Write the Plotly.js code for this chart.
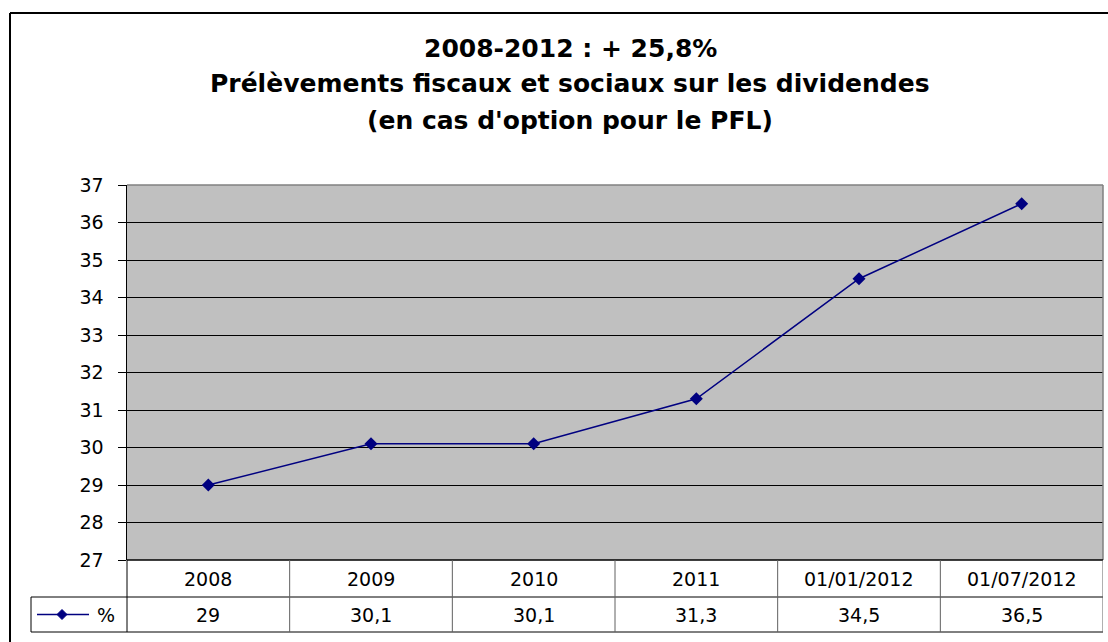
<!DOCTYPE html>
<html>
<head>
<meta charset="utf-8">
<script src="https://cdn.plot.ly/plotly-3.0.1.min.js"></script>
<style>html,body{margin:0;padding:0;background:#fff;}#chart{width:1108px;height:642px;}</style>
</head>
<body>
<div id="chart"></div>
<script>
// ---- data ----
const categories = ["2008", "2009", "2010", "2011", "01/01/2012", "01/07/2012"];
const values = [29, 30.1, 30.1, 31.3, 34.5, 36.5];
const valueLabels = ["29", "30,1", "30,1", "31,3", "34,5", "36,5"];
const seriesName = "%";
const yTicks = [27, 28, 29, 30, 31, 32, 33, 34, 35, 36, 37];
const titleLines = ["2008-2012 : + 25,8%", "Prélèvements fiscaux et sociaux sur les dividendes", "(en cas d'option pour le PFL)"];

// ---- layout geometry ----
const W = 1108, H = 642;
const L = 127, R = 1103, T = 185, B = 560;
const pw = R - L, ph = B - T;
const px = x => (x - L) / pw;
const py = y => (B - y) / ph;

const navy = "#000080";
const font = "DejaVu Sans, Arial, sans-serif";

const shapes = [];
const annotations = [];

// outer frame
shapes.push({type: "line", xref: "paper", yref: "paper", x0: px(10), x1: px(1112), y0: py(13), y1: py(13), line: {color: "#000", width: 2}});
shapes.push({type: "line", xref: "paper", yref: "paper", x0: px(10), x1: px(10), y0: py(13), y1: py(650), line: {color: "#000", width: 2}});
// plot area top/right border (gray)
shapes.push({type: "line", xref: "paper", yref: "paper", x0: 0, x1: 1, y0: 1, y1: 1, line: {color: "#808080", width: 1.5}});
shapes.push({type: "line", xref: "paper", yref: "paper", x0: 1, x1: 1, y0: 0, y1: 1, line: {color: "#808080", width: 1.5}});

// data table
const r1 = 597, r2 = 632;
shapes.push({type: "line", xref: "paper", yref: "paper", x0: 0, x1: 1, y0: 0, y1: 0, line: {color: "#000", width: 1.5}});
shapes.push({type: "line", xref: "paper", yref: "paper", x0: px(31), x1: 1, y0: py(r1), y1: py(r1), line: {color: "#000", width: 1}});
shapes.push({type: "line", xref: "paper", yref: "paper", x0: px(31), x1: 1, y0: py(r2), y1: py(r2), line: {color: "#000", width: 1}});
shapes.push({type: "line", xref: "paper", yref: "paper", x0: px(31), x1: px(31), y0: py(r1), y1: py(r2), line: {color: "#000", width: 1}});
shapes.push({type: "line", xref: "paper", yref: "paper", x0: 0, x1: 0, y0: 0, y1: py(r2), line: {color: "#000", width: 1}});
for (let i = 0; i < categories.length; i++) {
  shapes.push({type: "line", xref: "x", yref: "paper", x0: i + 0.5, x1: i + 0.5, y0: 0, y1: py(r2), line: {color: "#606060", width: 1}});
  annotations.push({xref: "x", yref: "paper", x: i, y: py((B + r1) / 2), text: categories[i], showarrow: false, xanchor: "center", yanchor: "middle", font: {family: font, size: 19, color: "#000"}});
  annotations.push({xref: "x", yref: "paper", x: i, y: py((r1 + r2) / 2), text: valueLabels[i], showarrow: false, xanchor: "center", yanchor: "middle", font: {family: font, size: 19, color: "#000"}});
}
// legend key in table
const ly = (r1 + r2) / 2;
shapes.push({type: "line", xref: "paper", yref: "paper", x0: px(37), x1: px(89), y0: py(ly), y1: py(ly), line: {color: navy, width: 1.5}});
const dc = 62, dr = 5;
shapes.push({type: "path", xref: "paper", yref: "paper",
  path: `M${px(dc - dr)},${py(ly)} L${px(dc)},${py(ly - dr)} L${px(dc + dr)},${py(ly)} L${px(dc)},${py(ly + dr)} Z`,
  fillcolor: navy, line: {color: navy, width: 1}});
annotations.push({xref: "paper", yref: "paper", x: px(106), y: py(ly), text: seriesName, showarrow: false, xanchor: "center", yanchor: "middle", font: {family: font, size: 19, color: "#000"}});

// title lines
const titleY = [48, 84, 120];
titleLines.forEach((t, i) => {
  annotations.push({xref: "paper", yref: "paper", x: px(570), y: py(titleY[i]), text: "<b>" + t + "</b>", showarrow: false, xanchor: "center", yanchor: "middle", font: {family: font, size: 25, color: "#000"}});
});

const trace = {
  type: "scatter", mode: "lines+markers", name: seriesName,
  x: categories, y: values,
  line: {color: navy, width: 1.5},
  marker: {symbol: "diamond", size: 10, color: navy},
  cliponaxis: false, hoverinfo: "skip"
};

const layout = {
  width: W, height: H,
  margin: {l: L, r: W - R, t: T, b: H - B, pad: 0},
  paper_bgcolor: "#fff", plot_bgcolor: "#C0C0C0",
  showlegend: false,
  xaxis: {type: "category", range: [-0.5, categories.length - 0.5], showticklabels: false, ticks: "", showgrid: false, zeroline: false, showline: false, fixedrange: true},
  yaxis: {range: [27, 37], tickvals: yTicks, ticktext: yTicks.map(String), ticks: "outside", ticklen: 8, tickwidth: 1, tickcolor: "#000",
          showgrid: true, gridcolor: "#000", gridwidth: 1, zeroline: false, showline: true, linecolor: "#000", linewidth: 1.5,
          ticklabelstandoff: 10, tickfont: {family: font, size: 19, color: "#000"}, fixedrange: true},
  shapes: shapes, annotations: annotations
};

Plotly.newPlot("chart", [trace], layout, {displayModeBar: false, staticPlot: true});
</script>
</body>
</html>
